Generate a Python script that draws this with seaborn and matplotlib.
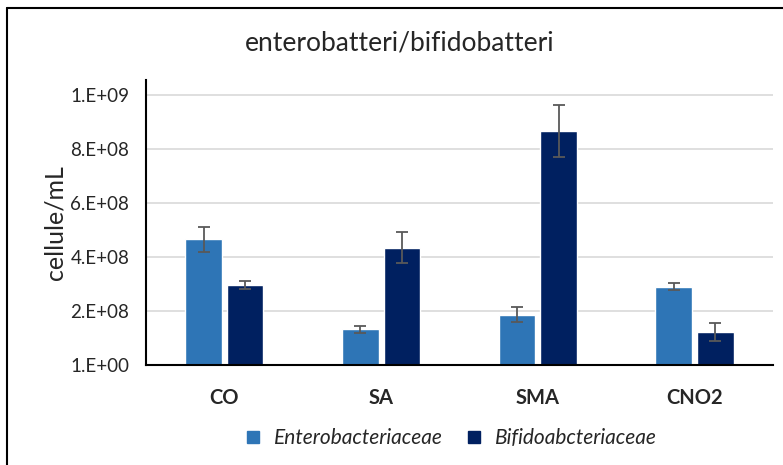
import pandas as pd
import matplotlib.pyplot as plt
import matplotlib.lines as mlines
import numpy as np
import seaborn as sns

# Data
groups = ["CO", "SA", "SMA", "CNO2"]
entero = [4.65e8, 1.30e8, 1.85e8, 2.89e8]
entero_err = [4.6e7, 1.2e7, 2.8e7, 1.2e7]
bifido = [2.95e8, 4.33e8, 8.66e8, 1.21e8]
bifido_err = [1.6e7, 5.7e7, 9.8e7, 3.3e7]
series = ["Enterobacteriaceae", "Bifidoabcteriaceae"]
colors = ["#2E75B6", "#002060"]
ytick_vals = [0, 2e8, 4e8, 6e8, 8e8, 1e9]
ytick_labels = ["1.E+00", "2.E+08", "4.E+08", "6.E+08", "8.E+08", "1.E+09"]

def main():
    df = pd.DataFrame({
        "group": groups * 2,
        "series": [series[0]] * 4 + [series[1]] * 4,
        "value": entero + bifido,
        "err": entero_err + bifido_err,
    })

    sns.set_style("white")
    plt.rcParams['font.family'] = ['Lato', 'DejaVu Sans']

    fig = plt.figure(figsize=(7.83, 4.65), dpi=100)
    ax = fig.add_axes([0.1865, 0.216, 0.8005, 0.612])

    sns.barplot(data=df, x="group", y="value", hue="series", order=groups,
                hue_order=series, palette=colors, width=0.53, gap=0.12,
                saturation=1, errorbar=None, legend=False, ax=ax, zorder=2)

    # Error bars at the bar centres
    for patch_list, s in zip(ax.containers, series):
        sub = df[df["series"] == s].set_index("group").loc[groups]
        xs = [p.get_x() + p.get_width() / 2 for p in patch_list]
        ax.errorbar(xs, sub["value"], yerr=sub["err"], fmt="none",
                    ecolor="#595959", elinewidth=1.3, capsize=4, capthick=1.3, zorder=3)

    ax.set_ylim(0, 1.055e9)
    ax.set_xlim(-0.5, 3.5)
    ax.set_yticks(ytick_vals)
    ax.set_yticklabels(ytick_labels, fontsize=13.5)
    ax.yaxis.grid(True, color="#D9D9D9", linewidth=1.2, zorder=0)
    ax.set_axisbelow(True)
    ax.tick_params(axis="y", length=0, pad=12)
    ax.tick_params(axis="x", length=0, pad=17)
    for lbl in ax.get_xticklabels():
        lbl.set_fontweight("bold")
        lbl.set_fontsize(14.5)
    for side in ["top", "right"]:
        ax.spines[side].set_visible(False)
    ax.spines["left"].set_color("black")
    ax.spines["left"].set_linewidth(1.5)
    ax.spines["bottom"].set_color("black")
    ax.spines["bottom"].set_linewidth(1.5)
    ax.set_xlabel("")
    ax.set_ylabel("cellule/mL", fontsize=18, labelpad=3)

    fig.suptitle("enterobatteri/bifidobatteri", x=0.511, y=0.935, fontsize=19)

    handles = [mlines.Line2D([], [], marker="s", linestyle="none", markersize=9,
                             color=c) for c in colors]
    fig.legend(handles, series, loc="center", bbox_to_anchor=(0.568, 0.058),
               ncol=2, frameon=False, handletextpad=0.0, columnspacing=0.5,
               prop={"style": "italic", "size": 15, "family": ["Lato", "DejaVu Sans"]})

    # Image frame (left and top edges)
    fig.add_artist(mlines.Line2D([0.009, 0.009], [0, 0.983], color="black", lw=1.5,
                                 transform=fig.transFigure))
    fig.add_artist(mlines.Line2D([0.009, 1.0], [0.983, 0.983], color="black", lw=1.5,
                                 transform=fig.transFigure))

    fig.savefig("out.png", dpi=100)
    plt.close(fig)

if __name__ == '__main__':
    main()
